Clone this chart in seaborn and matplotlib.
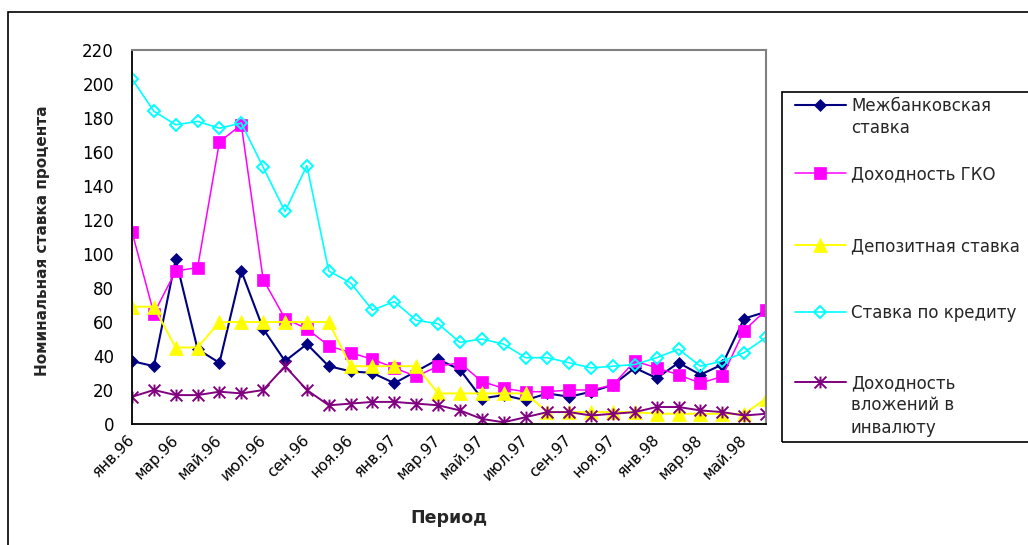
import pandas as pd
import seaborn as sns
import matplotlib.pyplot as plt
from matplotlib.lines import Line2D
from matplotlib.patches import Rectangle
from matplotlib.path import Path

sns.set_style('white')
plt.rcParams['font.family'] = ['DejaVu Sans']

# ---------------------------------- data ----------------------------------
months = ['янв.96', 'фев.96', 'мар.96', 'апр.96', 'май.96', 'июн.96',
          'июл.96', 'авг.96', 'сен.96', 'окт.96', 'ноя.96', 'дек.96',
          'янв.97', 'фев.97', 'мар.97', 'апр.97', 'май.97', 'июн.97',
          'июл.97', 'авг.97', 'сен.97', 'окт.97', 'ноя.97', 'дек.97',
          'янв.98', 'фев.98', 'мар.98', 'апр.98', 'май.98', 'июн.98']

interbank = [37, 34, 97, 44, 36, 90, 56, 37, 47, 34, 31, 30, 24, 31, 38,
             32, 15, 17, 14, 18, 16, 19, 23, 33, 27, 36, 29, 35, 62, 66]
gko = [113, 65, 90, 92, 166, 176, 85, 62, 56, 46, 42, 38, 33, 28, 34,
       36, 25, 21, 19, 19, 20, 20, 23, 37, 33, 29, 24, 28, 55, 67]
deposit = [69, 69, 45, 45, 60, 60, 60, 60, 60, 60, 34, 34, 34, 34, 18,
           18, 18, 18, 18, 7, 7, 7, 7, 7, 6, 6, 6, 6, 6, 15]
credit = [203, 184, 176, 178, 174, 177, 151, 125, 152, 90, 83, 67, 72, 61, 59,
          48, 50, 47, 39, 39, 36, 33, 34, 35, 39, 44, 34, 37, 42, 51]
fx = [16, 20, 17, 17, 19, 18, 20, 34, 20, 11, 12, 13, 13, 12, 11,
      8, 3, 1, 4, 7, 7, 5, 6, 7, 10, 10, 8, 7, 5, 6]

labels = ['Межбанковская\nставка', 'Доходность ГКО', 'Депозитная ставка',
          'Ставка по кредиту', 'Доходность\nвложений в\nинвалюту']

df = pd.DataFrame({'period': range(len(months)), 'interbank': interbank,
                   'gko': gko, 'deposit': deposit, 'credit': credit, 'fx': fx})

# excel style star marker: x with a vertical bar
star = Path([(0, -1), (0, 1), (-1, -1), (1, 1), (-1, 1), (1, -1)],
            [Path.MOVETO, Path.LINETO, Path.MOVETO, Path.LINETO,
             Path.MOVETO, Path.LINETO])

styles = [
    ('interbank', '#000080', 'D', 6.3, '#000080', 1.5),
    ('gko', '#FF00FF', 's', 9.0, '#FF00FF', 1.1),
    ('deposit', '#FFFF00', '^', 10.0, '#FFFF00', 1.4),
    ('credit', '#00FFFF', 'D', 6.6, 'none', 1.2),
    ('fx', '#800080', star, 8.5, 'none', 1.4),
]

W, H = 1028, 545
fig = plt.figure(figsize=(W / 100, H / 100), dpi=100)
ax = fig.add_axes([132 / W, 121 / H, 634 / W, 374 / H])

for col, color, marker, ms, mfc, lw in styles:
    sns.lineplot(data=df, x='period', y=col, ax=ax, color=color, linewidth=lw,
                 marker=marker, markersize=ms, markerfacecolor=mfc,
                 markeredgecolor=color, markeredgewidth=1.4 if mfc == 'none' else 0.5)

ax.set_xlim(0, len(months) - 1)
ax.set_ylim(0, 220)
ax.set_yticks(range(0, 221, 20))
ax.set_xticks(range(len(months)))
ax.set_xticklabels([m if i % 2 == 0 else '' for i, m in enumerate(months)],
                   rotation=45, ha='right', va='center', rotation_mode='anchor')
ax.tick_params(direction='inout', length=10, width=1, colors='black',
               labelsize=12)
ax.tick_params(axis='y', pad=8)
ax.tick_params(axis='x', pad=5, labelsize=11)

for s in ['left', 'bottom']:
    ax.spines[s].set_color('black')
    ax.spines[s].set_linewidth(1.3)
for s in ['top', 'right']:
    ax.spines[s].set_color('#808080')
    ax.spines[s].set_linewidth(1.5)

ax.set_xlabel('Период', fontsize=12.5, fontweight='bold', va='top')
ax.xaxis.set_label_coords(0.5, -0.226)
ax.set_ylabel('Номинальная ставка процента', fontsize=11, fontweight='bold')
ax.yaxis.set_label_coords(-0.129, 0.49)

# outer chart border
fig.add_artist(Rectangle((8 / W, -0.05), 1.1, (H - 12) / H + 0.05,
                         transform=fig.transFigure, fill=False,
                         edgecolor='black', linewidth=1.2))

# legend box, drawn like excel (marker beside the first text line)
fig.add_artist(Rectangle((782 / W, (H - 442) / H), 0.3, 350 / H,
                         transform=fig.transFigure, fill=False,
                         edgecolor='black', linewidth=1.2))
entry_y = [105, 173, 245, 312, 382]
for (col, color, marker, ms, mfc, lw), lab, yy in zip(styles, labels, entry_y):
    fy = (H - yy) / H
    fig.add_artist(Line2D([795 / W, 846 / W], [fy, fy], transform=fig.transFigure,
                          color=color, linewidth=lw))
    fig.add_artist(Line2D([820 / W], [fy], transform=fig.transFigure,
                          marker=marker, markersize=ms, markerfacecolor=mfc,
                          markeredgecolor=color,
                          markeredgewidth=1.4 if mfc == 'none' else 0.5))
    fig.text(851 / W, (H - yy + 8) / H, lab, fontsize=12, va='top', ha='left',
             linespacing=1.32)

fig.savefig('out.png', dpi=100)
